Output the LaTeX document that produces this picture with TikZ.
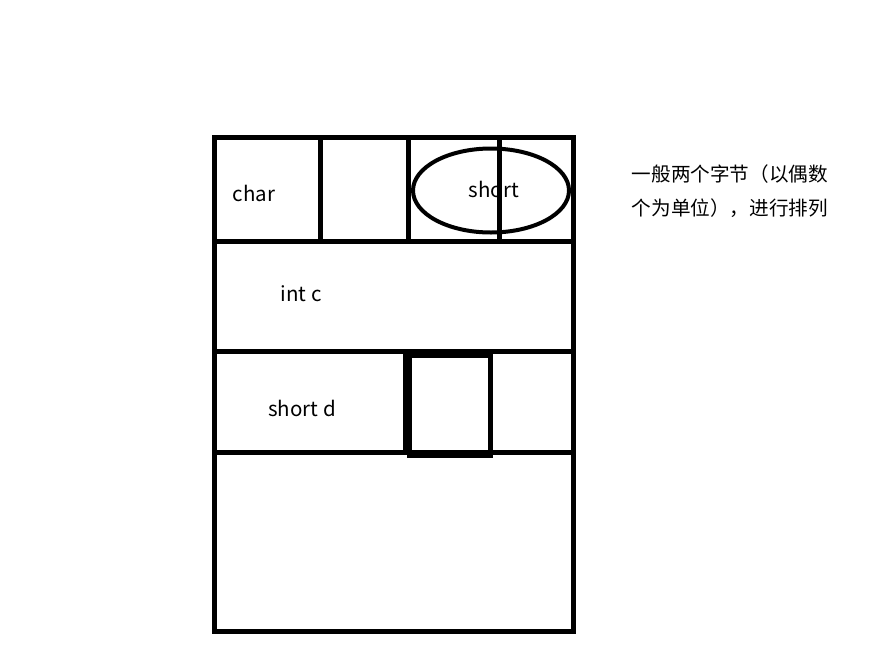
\documentclass[tikz,border=0pt]{standalone}
\usepackage{fontspec}
\setmainfont{Noto Sans CJK SC}
\usepackage{tikz}

\begin{document}
\begin{tikzpicture}[x=1pt,y=-1pt,line width=5pt,
  lbl/.style={font=\fontsize{20.5}{24}\selectfont},
  note/.style={font=\fontsize{19.6}{34}\selectfont,align=left,anchor=north west}]
  \useasboundingbox (0,0) rectangle (871,665);
  % outer frame
  \draw (214,137) rectangle (573,631);
  % first row: char, padding, short
  \draw (214,241) -- (573,241);
  \draw (320,137) -- (320,241);
  \draw (408,137) -- (408,241);
  \draw (499,137) -- (499,244);
  \draw[line width=4pt] (491,190.5) ellipse (78 and 42);
  \node[lbl] (char) at (254,193) {char};
  \node[lbl] (short) at (494,189) {short};
  % second row
  \node[lbl] (intc) at (301,294) {int c};
  % third row
  \draw (214,351) -- (573,351);
  \draw (214,452) -- (573,452);
  \draw[line width=8pt] (407,351) -- (407,455);
  \draw (409,355) rectangle (490,455);
  \node[lbl] (shortd) at (302,408) {short d};
  %\draw (0,0) -- (871,665);
  \node[note] (rule) at (626,159) {一般两个字节（以偶数\\个为单位），进行排列};
\end{tikzpicture}
\end{document}
